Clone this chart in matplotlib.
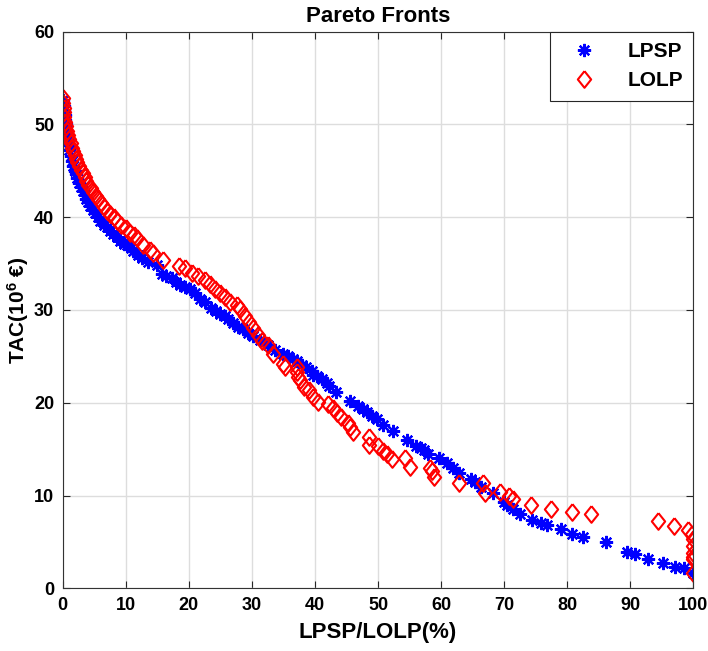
import numpy as np
import matplotlib
matplotlib.use('Agg')
import matplotlib.pyplot as plt

plt.rcParams['font.family'] = ['Liberation Sans', 'DejaVu Sans']
plt.rcParams['font.weight'] = 'bold'
plt.rcParams['mathtext.fontset'] = 'custom'
plt.rcParams['mathtext.rm'] = 'Liberation Sans:bold'
plt.rcParams['mathtext.default'] = 'rm'

# LPSP front (blue asterisks)
lpsp_x = [0.1, 0.2, 0.3, 0.4, 0.4, 0.5, 0.6, 0.7, 0.8, 1.0, 1.1, 1.3, 1.5, 1.7, 1.9,
          2.1, 2.3, 2.6, 2.9, 3.2, 3.5, 3.8, 4.1, 4.4, 4.8, 5.2, 5.6, 6.0, 6.5, 7.0,
          7.5, 8.0, 8.6, 9.1, 9.7, 10.2, 10.8, 11.2, 12.0, 12.6, 13.5, 14.9, 15.7, 16.4,
          17.3, 18.0, 18.6, 19.4, 20.2, 21.0, 21.8, 22.6, 23.6, 24.4, 25.0, 25.7, 26.3,
          27.0, 27.8, 28.6, 29.4, 30.2, 31.3, 32.0, 32.6, 33.7, 35.0, 35.8, 36.6, 37.2,
          37.9, 38.6, 39.5, 39.7, 40.4, 41.1, 41.9, 42.3, 43.3, 45.6, 46.9, 47.6, 48.3,
          49.1, 49.9, 50.8, 52.3, 54.6, 56.1, 56.8, 57.3, 58.0, 59.7, 60.9, 61.9, 62.9,
          64.8, 65.4, 66.4, 68.3, 69.9, 70.5, 71.4, 72.5, 74.4, 75.9, 76.8, 79.0, 80.7,
          82.5, 86.1, 89.5, 90.7, 92.8, 95.1, 97.1, 98.5, 99.9]
lpsp_y = [52.6, 52.0, 51.5, 51.0, 50.5, 50.0, 49.4, 48.9, 48.4, 47.8, 47.2, 46.6, 46.0, 45.5, 45.0,
          44.6, 44.2, 43.7, 43.2, 42.8, 42.4, 42.0, 41.6, 41.2, 40.8, 40.4, 40.0, 39.6, 39.2, 38.9,
          38.5, 38.2, 37.9, 37.4, 37.1, 37.0, 36.7, 36.4, 35.9, 35.6, 35.2, 34.8, 33.9, 33.7,
          33.4, 33.0, 32.7, 32.5, 32.2, 31.8, 31.2, 30.8, 30.2, 29.9, 29.6, 29.3, 29.0,
          28.6, 28.2, 27.9, 27.5, 27.2, 26.8, 26.5, 26.2, 25.7, 25.3, 25.0, 24.7, 24.5,
          24.1, 23.8, 23.4, 23.0, 22.9, 22.6, 22.1, 21.8, 21.2, 20.2, 19.6, 19.3, 19.0,
          18.6, 18.2, 17.6, 17.0, 16.0, 15.3, 15.1, 14.9, 14.5, 14.0, 13.5, 13.0, 12.4,
          11.8, 11.5, 10.9, 10.3, 9.3, 9.0, 8.6, 8.0, 7.4, 7.0, 6.8, 6.4, 5.9,
          5.5, 5.0, 3.9, 3.7, 3.2, 2.7, 2.3, 2.2, 1.7]

# LOLP front (red diamonds)
lolp_x = [0.0, 0.1, 0.2, 0.2, 0.3, 0.4, 0.5, 0.7, 0.9, 1.1, 1.3, 1.5, 1.7, 1.9, 2.1,
          2.3, 2.6, 2.9, 3.2, 3.5, 3.8, 4.1, 4.5, 4.9, 5.3, 5.7, 6.1, 6.6, 7.1, 7.6,
          8.1, 8.7, 9.3, 10.0, 10.7, 11.3, 11.8, 12.8, 13.9, 14.4, 16.0, 18.4, 19.4, 20.5,
          21.5, 22.6, 23.4, 24.2, 25.0, 25.8, 26.5, 27.6, 28.1, 28.9, 29.5, 30.2, 31.0,
          31.6, 32.5, 33.4, 35.0, 35.3, 37.1, 37.1, 37.4, 37.6, 38.2, 39.0, 39.7, 40.5,
          42.1, 42.9, 43.5, 44.2, 45.3, 45.6, 46.1, 48.5, 48.5, 50.0, 50.8, 51.5, 52.2,
          54.3, 55.1, 58.2, 58.5, 58.8, 62.9, 66.6, 67.0, 69.3, 70.8, 71.4, 74.2, 77.4,
          80.7, 83.8, 94.4, 96.9, 99.2, 99.7, 100.0, 100.0, 100.0, 100.0, 100.0, 100.0]
lolp_y = [52.8, 52.3, 51.8, 51.3, 50.8, 50.3, 49.8, 49.3, 48.8, 48.4, 48.0, 47.5, 47.1, 46.7, 46.3,
          45.9, 45.5, 45.1, 44.7, 44.3, 43.9, 43.5, 43.1, 42.7, 42.3, 41.9, 41.5, 41.1, 40.7, 40.3,
          40.0, 39.6, 39.2, 38.8, 38.3, 38.1, 37.8, 37.0, 36.5, 36.1, 35.4, 34.7, 34.5, 34.0,
          33.7, 33.2, 32.8, 32.2, 31.8, 31.4, 30.9, 30.5, 30.1, 29.3, 28.7, 28.0, 27.3,
          26.6, 26.2, 25.3, 24.2, 23.9, 23.8, 23.3, 22.8, 22.4, 21.7, 21.4, 20.6, 20.1,
          19.9, 19.4, 18.9, 18.5, 17.8, 17.4, 16.8, 16.3, 15.4, 15.3, 14.8, 14.5, 13.9,
          14.0, 13.1, 13.0, 12.6, 12.0, 11.3, 11.3, 10.3, 10.4, 9.9, 9.6, 9.0, 8.5,
          8.2, 8.0, 7.3, 6.7, 6.3, 5.9, 5.3, 4.6, 3.8, 3.4, 3.2, 1.6]

x_ticks = [0, 10, 20, 30, 40, 50, 60, 70, 80, 90, 100]
y_ticks = [0, 10, 20, 30, 40, 50, 60]

diamond = [(0, 1), (0.8, 0), (0, -1), (-0.8, 0), (0, 1)]

fig = plt.figure(figsize=(7.08, 6.51), dpi=100)
ax = fig.add_axes([0.0883, 0.0963, 0.8912, 0.8553])

ax.plot(lpsp_x, lpsp_y, linestyle='none', marker=(8, 2, 0), markersize=9.5,
        color='blue', markeredgewidth=1.6, label='LPSP')
ax.plot(lolp_x, lolp_y, linestyle='none', marker=diamond, markersize=12,
        markerfacecolor='none', markeredgecolor='red', markeredgewidth=1.5, label='LOLP')

ax.set_xlim(0, 100)
ax.set_ylim(0, 60)
ax.set_xticks(x_ticks)
ax.set_yticks(y_ticks)
ax.grid(True, color='#dddddd', linewidth=1)
ax.set_axisbelow(True)
ax.tick_params(direction='in', length=5, width=0.8, top=True, right=True,
               labelsize=13, colors='#262626', labelcolor='black', pad=6)
for s in ax.spines.values():
    s.set_color('#333333')
    s.set_linewidth(0.8)

ax.set_title('Pareto Fronts', fontsize=16, fontweight='bold', pad=7)
ax.set_xlabel('LPSP/LOLP(%)', fontsize=16, fontweight='bold', labelpad=6)
ax.set_ylabel('TAC(10$^{6}$ €)', fontsize=15, fontweight='bold', labelpad=2)

leg = ax.legend(loc='upper right', borderaxespad=0, fancybox=False, framealpha=1,
                edgecolor='#262626', fontsize=15, handletextpad=1.0, borderpad=0.5,
                labelspacing=0.5, handlelength=2.2)
leg.get_frame().set_linewidth(0.8)

fig.savefig('out.png', dpi=100)
